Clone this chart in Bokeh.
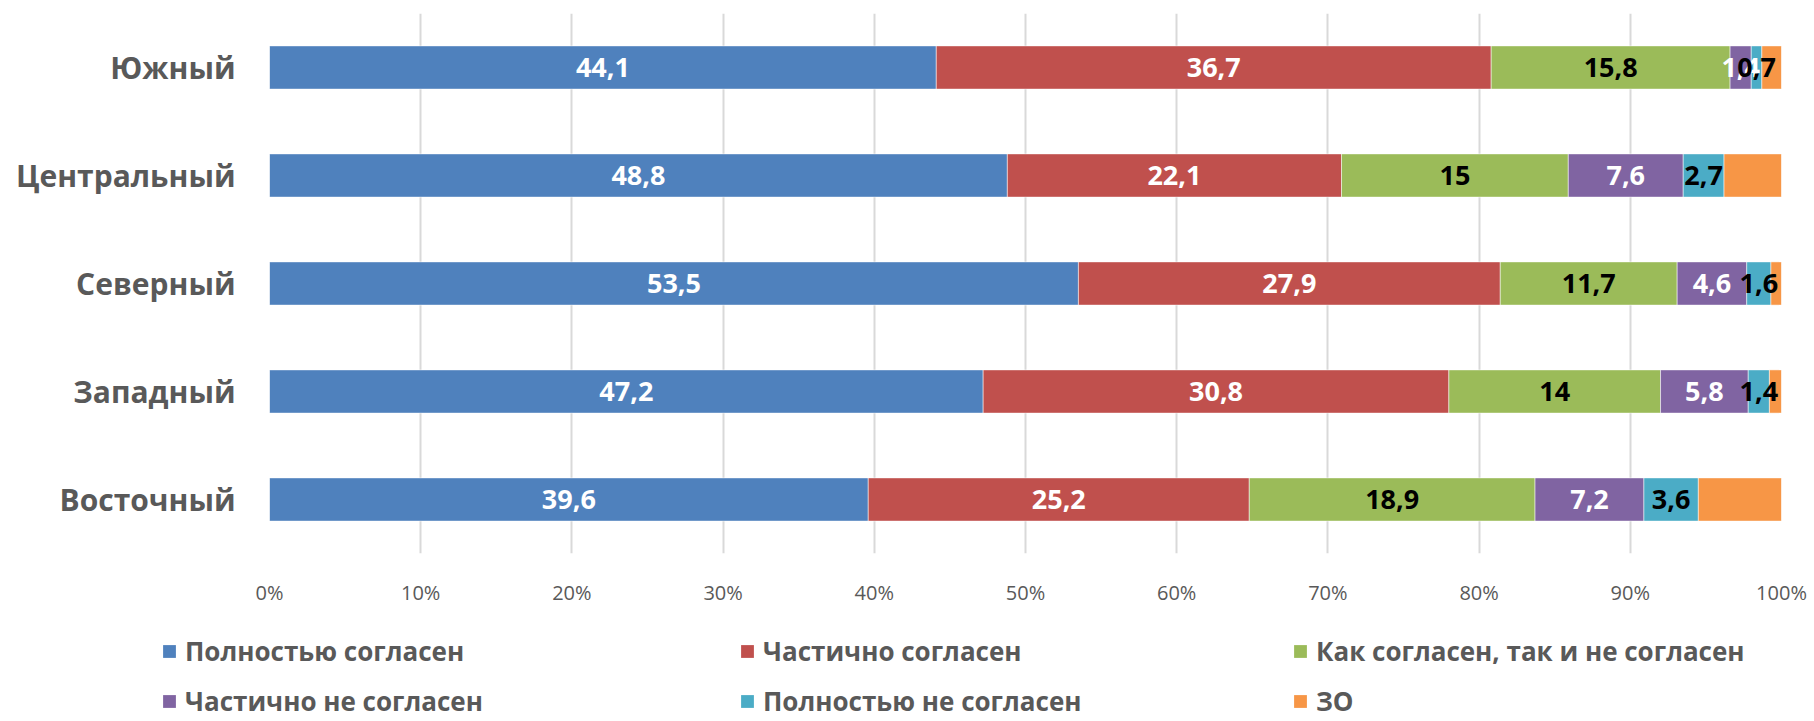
from bokeh.plotting import figure
from bokeh.models import (ColumnDataSource, FixedTicker, PrintfTickFormatter, Legend, LegendItem,
                          Range1d, FactorRange)
from bokeh.core.properties import value
from bokeh.embed import file_html
from bokeh.resources import INLINE

regions = ["Южный", "Центральный", "Северный", "Западный", "Восточный"]
series = ["Полностью согласен", "Частично согласен", "Как согласен, так и не согласен",
          "Частично не согласен", "Полностью не согласен", "ЗО"]
full_agree = [44.1, 48.8, 53.5, 47.2, 39.6]
part_agree = [36.7, 22.1, 27.9, 30.8, 25.2]
neutral = [15.8, 15.0, 11.7, 14.0, 18.9]
part_disagree = [1.4, 7.6, 4.6, 5.8, 7.2]
full_disagree = [0.7, 2.7, 1.6, 1.4, 3.6]
no_answer = [1.3, 3.8, 0.7, 0.8, 5.5]
x_ticks = [0, 10, 20, 30, 40, 50, 60, 70, 80, 90, 100]

colors = ["#4F81BD", "#C0504D", "#9BBB59", "#8064A2", "#4BACC6", "#F79646"]
label_colors = ["white", "white", "black", "white", "black", None]
keys = ["s0", "s1", "s2", "s3", "s4", "s5"]
values = [full_agree, part_agree, neutral, part_disagree, full_disagree, no_answer]

FONT = "Open Sans"
GRAY = "#595959"

data = {"region": regions}
for k, v in zip(keys, values):
    data[k] = v
source = ColumnDataSource(data)

p = figure(width=1814, height=608, y_range=FactorRange(*reversed(regions)),
           x_range=Range1d(0, 100), output_backend="svg", toolbar_location=None,
           min_border_left=269, min_border_right=33, min_border_top=13, min_border_bottom=52)
p.outline_line_color = None

renderers = p.hbar_stack(keys, y="region", height=0.4, color=colors, source=source,
                         line_color="white", line_width=1, line_alpha=0.5)

# data labels
for i, (k, v) in enumerate(zip(keys, values)):
    if label_colors[i] is None:
        continue
    lefts = [sum(values[j][r] for j in range(i)) for r in range(len(regions))]
    xs = [l + val / 2 for l, val in zip(lefts, v)]
    txt = [f"{val:g}".replace(".", ",") for val in v]
    src = ColumnDataSource(dict(x=xs, y=regions, t=txt))
    p.text(x="x", y="y", text="t", source=src, text_align="center", text_baseline="middle",
           text_font=value(FONT), text_font_style="bold", text_font_size="27px",
           text_color=label_colors[i])

# axes
p.xaxis.ticker = FixedTicker(ticks=x_ticks)
p.xaxis.formatter = PrintfTickFormatter(format="%d%%")
p.xaxis.axis_line_color = None
p.xaxis.major_tick_line_color = None
p.xaxis.minor_tick_line_color = None
p.xaxis.major_label_standoff = 19
p.xaxis.major_label_text_font = FONT
p.xaxis.major_label_text_font_size = "20px"
p.xaxis.major_label_text_color = GRAY

p.yaxis.axis_line_color = None
p.yaxis.major_tick_line_color = None
p.yaxis.minor_tick_line_color = None
p.yaxis.major_label_standoff = 28
p.yaxis.major_label_text_font = FONT
p.yaxis.major_label_text_font_style = "bold"
p.yaxis.major_label_text_font_size = "30px"
p.yaxis.major_label_text_color = GRAY

p.ygrid.grid_line_color = None
p.xgrid.ticker = FixedTicker(ticks=x_ticks)
p.xgrid.grid_line_color = "#D9D9D9"
p.xgrid.grid_line_width = 2

# legend figure below the chart (separate root, no frame alignment)
pl = figure(width=1814, height=113, x_range=Range1d(0, 1), y_range=Range1d(0, 1),
            output_backend="svg", toolbar_location=None,
            x_axis_location=None, y_axis_location=None,
            min_border_left=0, min_border_right=0, min_border_top=0, min_border_bottom=0)
pl.outline_line_color = None
pl.grid.grid_line_color = None
proxies = []
for c in colors:
    proxies.append(pl.hbar(y=[-5], left=[0], right=[0.1], height=0.1, fill_color=c, line_color=None))

col_x = [161, 739, 1292]
for c in range(3):
    items = [LegendItem(label=series[c], renderers=[proxies[c]]),
             LegendItem(label=series[c + 3], renderers=[proxies[c + 3]])]
    leg = Legend(items=items, orientation="vertical", location=(col_x[c], 1),
                 label_text_font=FONT, label_text_font_style="bold",
                 label_text_font_size="26px", label_text_color=GRAY,
                 glyph_width=16, glyph_height=16, label_standoff=8,
                 label_height=38, spacing=12, padding=0, margin=0,
                 border_line_color=None, background_fill_alpha=0)
    pl.add_layout(leg, "center")

open("out.html", "w").write(file_html([p, pl], INLINE))
